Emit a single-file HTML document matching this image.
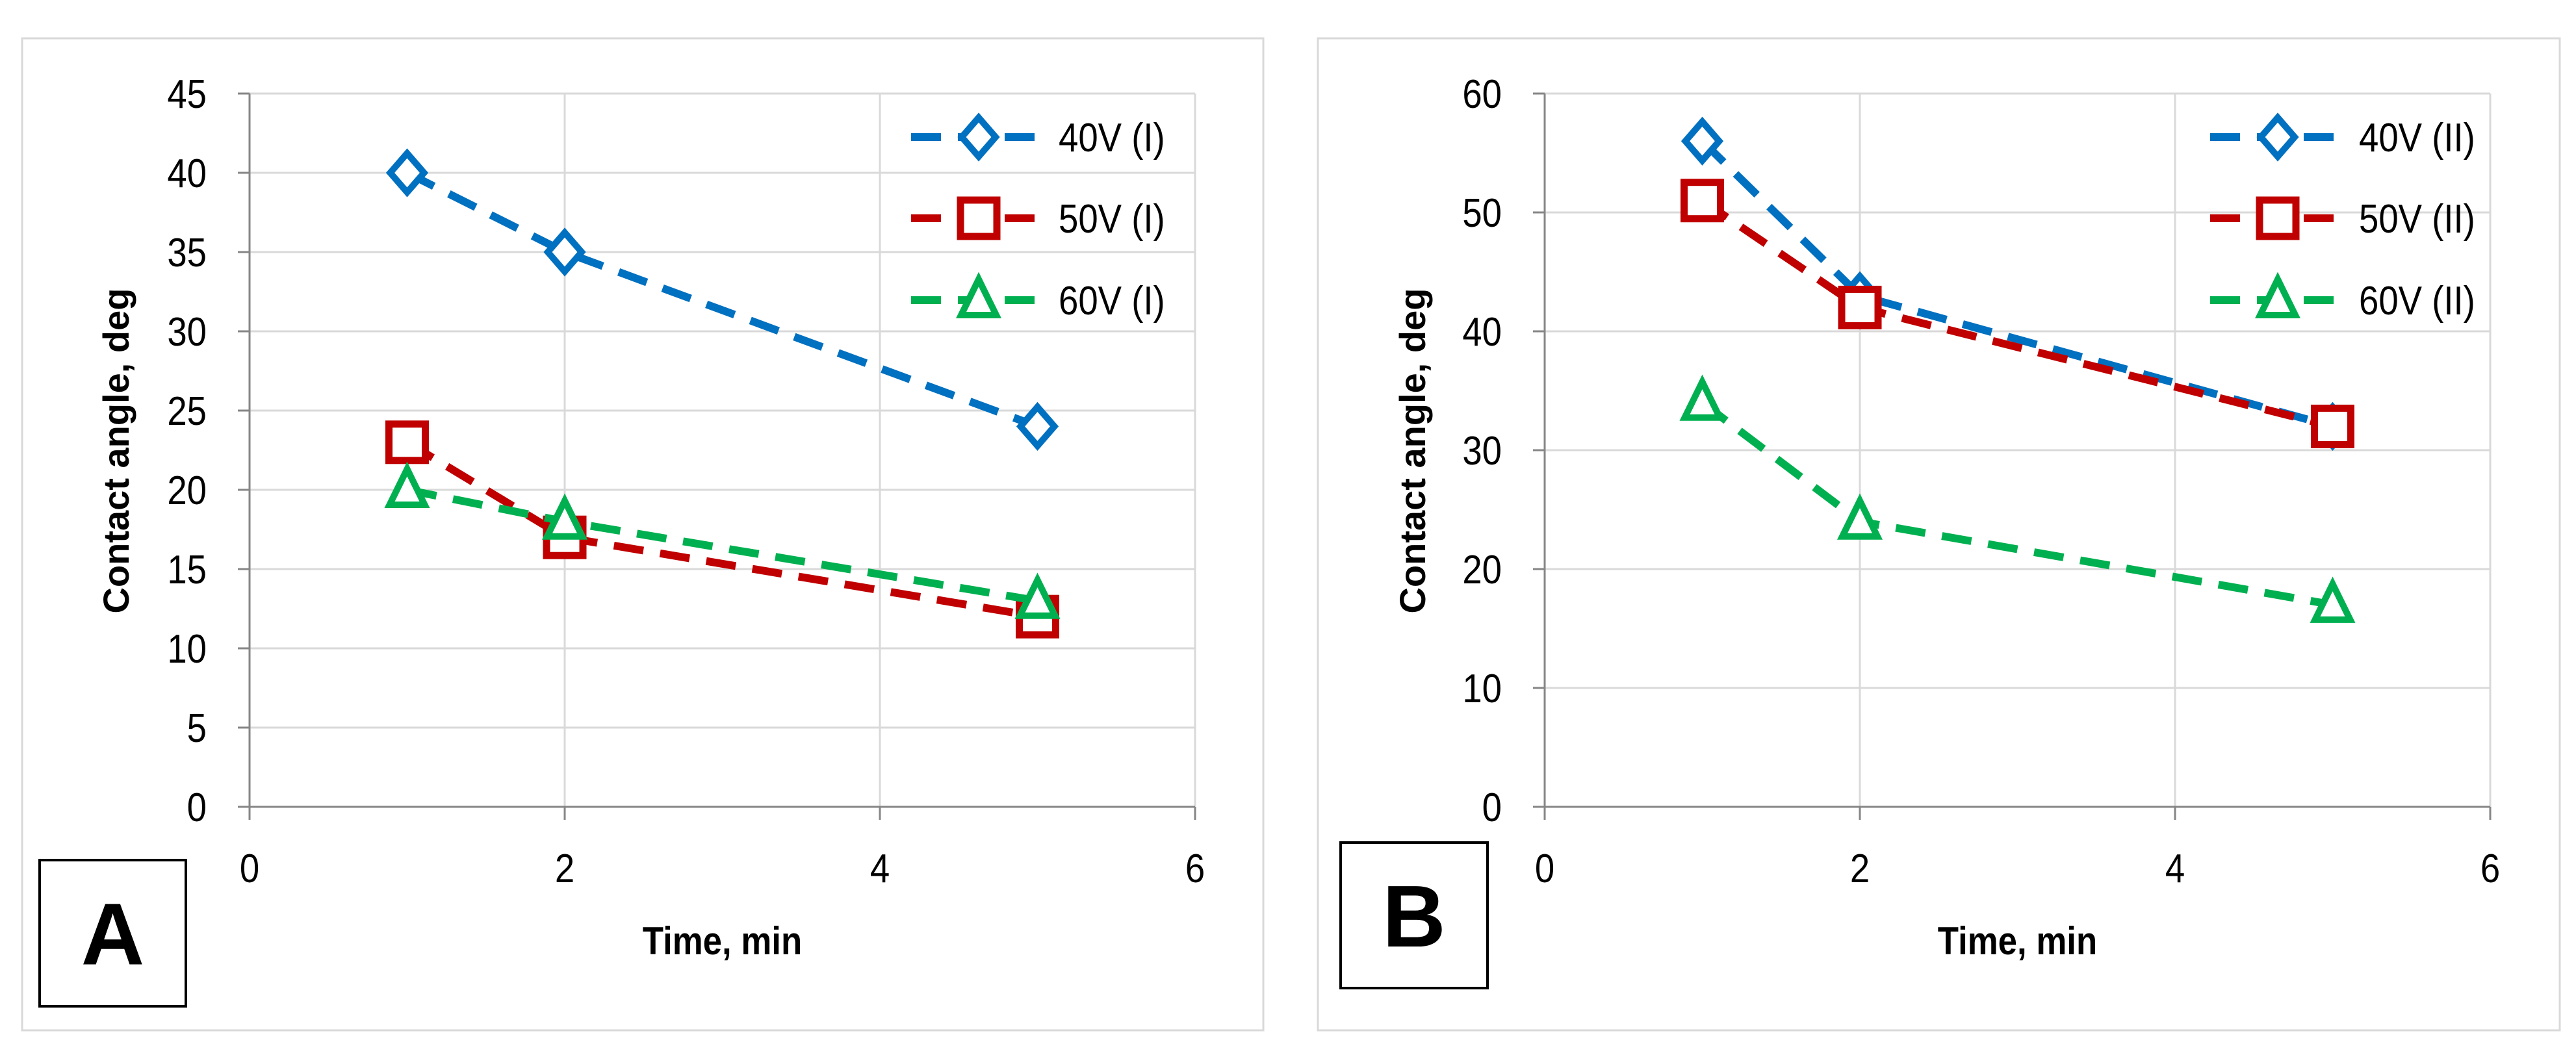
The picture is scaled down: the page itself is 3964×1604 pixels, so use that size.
<!DOCTYPE html>
<html><head><meta charset="utf-8">
<style>
html,body{margin:0;padding:0;background:#fff;}
svg{display:block;font-family:"Liberation Sans",sans-serif;}
</style></head>
<body>
<svg id="fig" width="3964" height="1604" viewBox="0 0 3964 1604"></svg>
<script>
const xTicks=[0,2,4,6];
const yTicksA=[0,5,10,15,20,25,30,35,40,45];
const yTicksB=[0,10,20,30,40,50,60];
const times=[1,2,5];
const a40=[40,35,24];
const a50=[23,17,12];
const a60=[20,18,13];
const b40=[56,43,32];
const b50=[51,42,32];
const b60=[34,24,17];
const namesA=["40V (I)","50V (I)","60V (I)"];
const namesB=["40V (II)","50V (II)","60V (II)"];

const NS="http://www.w3.org/2000/svg";
const svg=document.getElementById('fig');
function mk(tag,attrs,parent){const e=document.createElementNS(NS,tag);for(const k in attrs)e.setAttribute(k,attrs[k]);(parent||svg).appendChild(e);return e;}
const colors=["#0070C0","#C00000","#00B050"];
const shapes=["diamond","square","triangle"];

function marker(g,shape,cx,cy,color){
  let m;
  if(shape==="diamond"){m=mk('polygon',{points:`${cx},${cy-30} ${cx+26},${cy} ${cx},${cy+30} ${cx-26},${cy}`,fill:'#fff',stroke:color,'stroke-width':10},g);}
  else if(shape==="square"){m=mk('rect',{x:cx-28,y:cy-28,width:56,height:56,fill:'#fff',stroke:color,'stroke-width':11},g);}
  else {m=mk('polygon',{points:`${cx},${cy-32} ${cx+27},${cy+23} ${cx-27},${cy+23}`,fill:'#fff',stroke:color,'stroke-width':10,'stroke-linejoin':'miter'},g);}
  return m;
}

function ctext(g,x,y,anchor,size,str,bold){
  // condensed text to mimic Calibri
  const t=mk('text',{x:0,y:0,'text-anchor':anchor,'font-size':size,fill:'#000',transform:`translate(${x} ${y}) scale(0.88 1)`},g);
  if(bold)t.setAttribute('font-weight','bold');
  t.textContent=str;
  return t;
}

function panel(opt){
  const g=mk('g',{});
  
  
  const fr=mk('rect',{x:opt.frame[0],y:opt.frame[1],width:opt.frame[2]-opt.frame[0],height:opt.frame[3]-opt.frame[1],fill:'#fff',stroke:'#d9d9d9','stroke-width':3},g);
  
  
  const x0=opt.x0,x1=opt.x1,yt=144,yb=1242;
  const ymax=opt.yTicks[opt.yTicks.length-1];
  const X=v=>x0+(v-0)/(6-0)*(x1-x0);
  const Y=v=>yb-(v/ymax)*(yb-yt);
  opt.yTicks.forEach(t=>{
    if(t>0){const l=mk('line',{x1:x0,x2:x1,y1:Y(t),y2:Y(t),stroke:'#d9d9d9','stroke-width':3},g);
    }
    const tk=mk('line',{x1:x0-18,x2:x0,y1:Y(t),y2:Y(t),stroke:'#868686','stroke-width':3},g);
    
    const tx=ctext(g,x0-66,Y(t)+22,'end',62,String(t),false);
    
  });
  xTicks.forEach(t=>{
    if(t>0){const l=mk('line',{x1:X(t),x2:X(t),y1:yt,y2:yb,stroke:'#d9d9d9','stroke-width':3},g);
    }
    const tk=mk('line',{x1:X(t),x2:X(t),y1:yb,y2:yb+20,stroke:'#868686','stroke-width':3},g);
    
    const tx=ctext(g,X(t),1358,'middle',62,String(t),false);
    
  });
  const ax=mk('line',{x1:x0,x2:x0,y1:yt,y2:yb,stroke:'#868686','stroke-width':3},g);
  
  const axx=mk('line',{x1:x0,x2:x1,y1:yb,y2:yb,stroke:'#868686','stroke-width':3},g);
  
  const xt=ctext(g,(x0+x1)/2,1469,'middle',60,'Time, min',true);
  
  const ycx=opt.ytitleX;
  const ytt=mk('text',{x:ycx,y:694,'text-anchor':'middle','font-size':56,'font-weight':'bold',fill:'#000',transform:`rotate(-90 ${ycx} 694)`,dy:20},g);
  ytt.textContent='Contact angle, deg';
  
  opt.series.forEach((s,i)=>{
    const sg=mk('g',{},g);
    
    
    const pts=s.map((v,j)=>X(times[j])+','+Y(v)).join(' ');
    const pl=mk('polyline',{points:pts,fill:'none',stroke:colors[i],'stroke-width':12,'stroke-dasharray':'46 26'},sg);
    
    s.forEach((v,j)=>{const m=marker(sg,shapes[i],X(times[j]),Y(v),colors[i]);
      });
  });
  const lg=mk('g',{},g);
  
  const rows=[211,336,462];
  opt.names.forEach((n,i)=>{
    const eg=mk('g',{},lg);
    
    mk('line',{x1:opt.leg[0],x2:opt.leg[0]+209,y1:rows[i],y2:rows[i],stroke:colors[i],'stroke-width':12,'stroke-dasharray':'46 26'},eg);
    marker(eg,shapes[i],opt.leg[1],rows[i],colors[i]);
    ctext(eg,opt.leg[2],rows[i]+22,'start',62,n,false);
  });
  const lb=mk('rect',{x:opt.box[0],y:opt.box[1],width:opt.box[2]-opt.box[0],height:opt.box[3]-opt.box[1],fill:'#fff',stroke:'#000','stroke-width':4},g);
  
  const lt=mk('text',{x:(opt.box[0]+opt.box[2])/2,y:(opt.box[1]+opt.box[3])/2+48,'text-anchor':'middle','font-size':135,'font-weight':'bold',fill:'#000'},g);
  lt.textContent=opt.letter;
  
}

panel({name:'panel-a',frame:[34,59,1944,1586],x0:384,x1:1839,yTicks:yTicksA,series:[a40,a50,a60],names:namesA,leg:[1402,1506,1629],box:[61,1324,286,1549],letter:'A',ytitleX:178});
panel({name:'panel-b',frame:[2028,59,3939,1586],x0:2377,x1:3832,yTicks:yTicksB,series:[b40,b50,b60],names:namesB,leg:[3401,3505,3630],box:[2063,1297,2289,1521],letter:'B',ytitleX:2173});
</script>
</body></html>
